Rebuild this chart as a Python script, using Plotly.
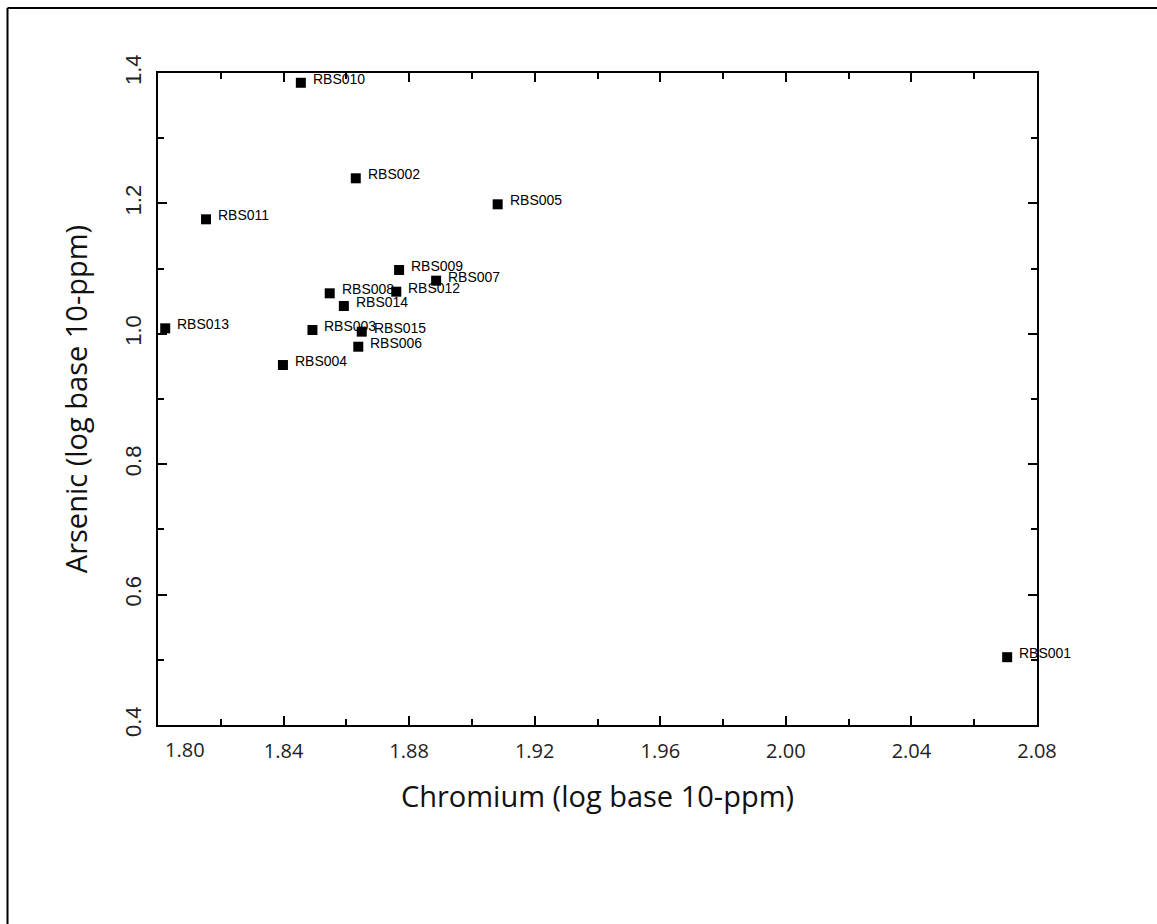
import plotly.graph_objects as go

# ---- data ----
samples = ["RBS001", "RBS002", "RBS003", "RBS004", "RBS005", "RBS006", "RBS007", "RBS008",
           "RBS009", "RBS010", "RBS011", "RBS012", "RBS013", "RBS014", "RBS015"]
chromium = [2.0705, 1.8630, 1.8492, 1.8398, 1.9082, 1.8638, 1.8886, 1.8547,
            1.8768, 1.8455, 1.8153, 1.8759, 1.8023, 1.8592, 1.8649]
arsenic = [0.504, 1.2385, 1.0058, 0.9521, 1.1986, 0.9802, 1.0815, 1.0621,
           1.0979, 1.385, 1.1756, 1.0646, 1.0084, 1.0426, 1.0033]

x_ticks = [1.80, 1.84, 1.88, 1.92, 1.96, 2.00, 2.04, 2.08]
x_tick_labels = ["1.80", "1.84", "1.88", "1.92", "1.96", "2.00", "2.04", "2.08"]
y_ticks = [0.4, 0.6, 0.8, 1.0, 1.2, 1.4]
y_tick_labels = ["0.4", "0.6", "0.8", "1.0", "1.2", "1.4"]

x_title = "Chromium (log base 10-ppm)"
y_title = "Arsenic (log base 10-ppm)"

fig = go.Figure()
fig.add_trace(go.Scatter(
    x=chromium, y=arsenic, mode="markers",
    marker=dict(symbol="square", size=10, color="black", line=dict(width=0)),
    hoverinfo="text", text=samples, showlegend=False, cliponaxis=False,
))

annotations = []
for name, cx, ay in zip(samples, chromium, arsenic):
    annotations.append(dict(
        x=cx, y=ay, xref="x", yref="y", text=name, showarrow=False,
        xanchor="left", yanchor="middle", xshift=10, yshift=4,
        font=dict(family="Liberation Sans, Arial, sans-serif", size=14, color="black"),
    ))

# first x tick label is set inward, as in the reference
annotations.append(dict(
    x=x_ticks[0], y=0, xref="x", yref="paper", text=x_tick_labels[0], showarrow=False,
    xanchor="center", yanchor="middle", xshift=27, yshift=-24,
    font=dict(family="Open Sans, sans-serif", size=20, color="#222"),
))

axis_common = dict(
    showline=True, linecolor="black", linewidth=2, mirror="ticks",
    ticks="inside", ticklen=9, tickwidth=1.5, tickcolor="black",
    showgrid=False, zeroline=False,
)

fig.update_layout(
    width=1157, height=924, autosize=False,
    paper_bgcolor="white", plot_bgcolor="white",
    margin=dict(l=158, r=120, t=73, b=199, pad=0),
    annotations=annotations,
    xaxis=dict(
        range=[1.80, 2.08], tickvals=x_ticks,
        ticktext=[""] + x_tick_labels[1:],
        tickfont=dict(family="Open Sans, sans-serif", size=20, color="#222"),
        ticklabelstandoff=7,
        minor=dict(dtick=0.02, tick0=1.80, ticks="inside", ticklen=6, tickwidth=1.5, tickcolor="black"),
        title=dict(text=x_title, font=dict(family="Open Sans, sans-serif", size=29, color="#111"), standoff=24),
        **axis_common,
    ),
    yaxis=dict(
        range=[0.4, 1.4], tickvals=y_ticks, ticktext=y_tick_labels,
        tickangle=-90,
        tickfont=dict(family="Liberation Sans, Arial, sans-serif", size=22, color="#222"),
        ticklabelstandoff=6,
        minor=dict(dtick=0.1, tick0=0.4, ticks="inside", ticklen=6, tickwidth=1.5, tickcolor="black"),
        title=dict(text=y_title, font=dict(family="Open Sans, sans-serif", size=29, color="#111"), standoff=25),
        **axis_common,
    ),
    shapes=[
        dict(type="line", xref="paper", yref="paper", x0=-0.1712, x1=-0.1712, y0=-0.31, y1=1.0997,
             line=dict(color="black", width=2)),
        dict(type="line", xref="paper", yref="paper", x0=-0.1712, x1=1.14, y0=1.0997, y1=1.0997,
             line=dict(color="black", width=2)),
    ],
)

fig.write_html("out.html", config={"displayModeBar": False},
               post_script="document.body.style.margin='0';")
